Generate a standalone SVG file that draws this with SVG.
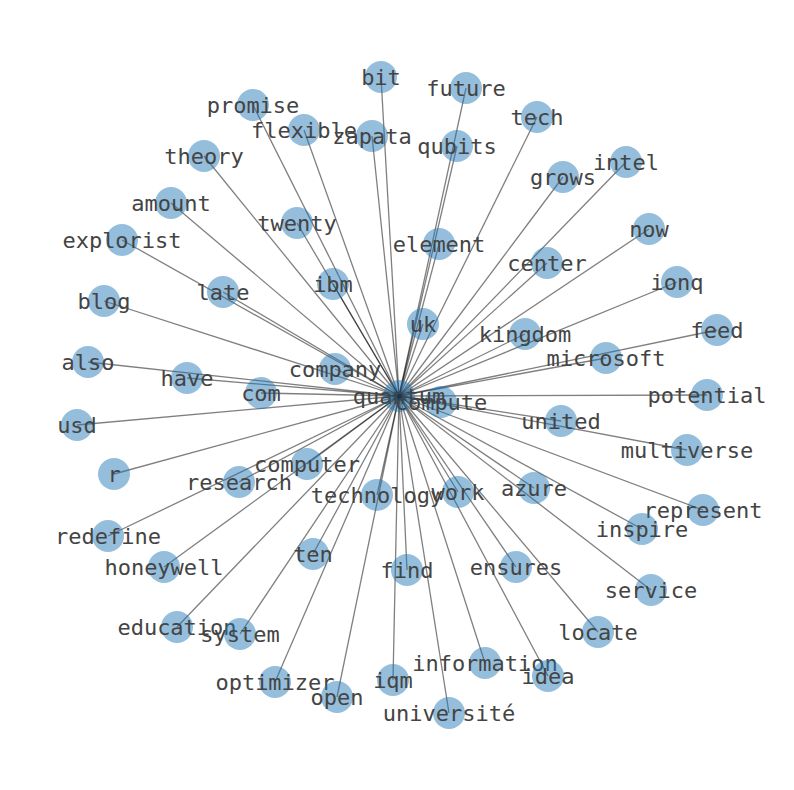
<svg xmlns="http://www.w3.org/2000/svg" width="794" height="790" viewBox="0 0 794 790">
<style>
.e line{stroke:#000;stroke-opacity:0.5;stroke-width:1.3}
.n circle{fill:#1f77b4;fill-opacity:0.48}
.n text{font-family:"DejaVu Sans Mono",monospace;font-size:22px;fill:#444;text-anchor:middle;dominant-baseline:central}
</style>
<rect width="794" height="790" fill="#fff"/>
<g id="edges" class="e">
<line x1="399" y1="396" x2="381" y2="77"/>
<line x1="399" y1="396" x2="253" y2="105"/>
<line x1="399" y1="396" x2="304" y2="130"/>
<line x1="399" y1="396" x2="372" y2="136"/>
<line x1="399" y1="396" x2="204" y2="156"/>
<line x1="399" y1="396" x2="171" y2="203"/>
<line x1="399" y1="396" x2="122" y2="240"/>
<line x1="399" y1="396" x2="297" y2="223"/>
<line x1="399" y1="396" x2="223" y2="292"/>
<line x1="399" y1="396" x2="333" y2="284"/>
<line x1="399" y1="396" x2="104" y2="301"/>
<line x1="399" y1="396" x2="466" y2="88"/>
<line x1="399" y1="396" x2="537" y2="117"/>
<line x1="399" y1="396" x2="457" y2="146"/>
<line x1="399" y1="396" x2="563" y2="177"/>
<line x1="399" y1="396" x2="626" y2="162"/>
<line x1="399" y1="396" x2="649" y2="229"/>
<line x1="399" y1="396" x2="439" y2="244"/>
<line x1="399" y1="396" x2="547" y2="263"/>
<line x1="399" y1="396" x2="677" y2="282"/>
<line x1="399" y1="396" x2="423" y2="324"/>
<line x1="399" y1="396" x2="525" y2="334"/>
<line x1="399" y1="396" x2="717" y2="330"/>
<line x1="399" y1="396" x2="606" y2="358"/>
<line x1="399" y1="396" x2="88" y2="362"/>
<line x1="399" y1="396" x2="187" y2="378"/>
<line x1="399" y1="396" x2="335" y2="369"/>
<line x1="399" y1="396" x2="261" y2="393"/>
<line x1="399" y1="396" x2="77" y2="425"/>
<line x1="399" y1="396" x2="114" y2="474"/>
<line x1="399" y1="396" x2="307" y2="464"/>
<line x1="399" y1="396" x2="239" y2="482"/>
<line x1="399" y1="396" x2="377" y2="495"/>
<line x1="399" y1="396" x2="108" y2="536"/>
<line x1="399" y1="396" x2="164" y2="567"/>
<line x1="399" y1="396" x2="313" y2="554"/>
<line x1="399" y1="396" x2="177" y2="627"/>
<line x1="399" y1="396" x2="240" y2="634"/>
<line x1="399" y1="396" x2="275" y2="682"/>
<line x1="399" y1="396" x2="337" y2="697"/>
<line x1="399" y1="396" x2="393" y2="680"/>
<line x1="399" y1="396" x2="407" y2="570"/>
<line x1="399" y1="396" x2="441" y2="402"/>
<line x1="399" y1="396" x2="707" y2="395"/>
<line x1="399" y1="396" x2="561" y2="421"/>
<line x1="399" y1="396" x2="687" y2="450"/>
<line x1="399" y1="396" x2="458" y2="492"/>
<line x1="399" y1="396" x2="534" y2="488"/>
<line x1="399" y1="396" x2="703" y2="510"/>
<line x1="399" y1="396" x2="642" y2="529"/>
<line x1="399" y1="396" x2="516" y2="567"/>
<line x1="399" y1="396" x2="651" y2="590"/>
<line x1="399" y1="396" x2="598" y2="632"/>
<line x1="399" y1="396" x2="485" y2="663"/>
<line x1="399" y1="396" x2="548" y2="676"/>
<line x1="399" y1="396" x2="449" y2="713"/>
</g>
<g class="n">
<g id="n-bit"><circle cx="381" cy="77" r="16"/><text x="381" y="77">bit</text></g>
<g id="n-promise"><circle cx="253" cy="105" r="16"/><text x="253" y="105">promise</text></g>
<g id="n-flexible"><circle cx="304" cy="130" r="16"/><text x="304" y="130">flexible</text></g>
<g id="n-zapata"><circle cx="372" cy="136" r="16"/><text x="372" y="136">zapata</text></g>
<g id="n-theory"><circle cx="204" cy="156" r="16"/><text x="204" y="156">theory</text></g>
<g id="n-amount"><circle cx="171" cy="203" r="16"/><text x="171" y="203">amount</text></g>
<g id="n-explorist"><circle cx="122" cy="240" r="16"/><text x="122" y="240">explorist</text></g>
<g id="n-twenty"><circle cx="297" cy="223" r="16"/><text x="297" y="223">twenty</text></g>
<g id="n-late"><circle cx="223" cy="292" r="16"/><text x="223" y="292">late</text></g>
<g id="n-ibm"><circle cx="333" cy="284" r="16"/><text x="333" y="284">ibm</text></g>
<g id="n-blog"><circle cx="104" cy="301" r="16"/><text x="104" y="301">blog</text></g>
<g id="n-future"><circle cx="466" cy="88" r="16"/><text x="466" y="88">future</text></g>
<g id="n-tech"><circle cx="537" cy="117" r="16"/><text x="537" y="117">tech</text></g>
<g id="n-qubits"><circle cx="457" cy="146" r="16"/><text x="457" y="146">qubits</text></g>
<g id="n-grows"><circle cx="563" cy="177" r="16"/><text x="563" y="177">grows</text></g>
<g id="n-intel"><circle cx="626" cy="162" r="16"/><text x="626" y="162">intel</text></g>
<g id="n-now"><circle cx="649" cy="229" r="16"/><text x="649" y="229">now</text></g>
<g id="n-element"><circle cx="439" cy="244" r="16"/><text x="439" y="244">element</text></g>
<g id="n-center"><circle cx="547" cy="263" r="16"/><text x="547" y="263">center</text></g>
<g id="n-ionq"><circle cx="677" cy="282" r="16"/><text x="677" y="282">ionq</text></g>
<g id="n-uk"><circle cx="423" cy="324" r="16"/><text x="423" y="324">uk</text></g>
<g id="n-kingdom"><circle cx="525" cy="334" r="16"/><text x="525" y="334">kingdom</text></g>
<g id="n-feed"><circle cx="717" cy="330" r="16"/><text x="717" y="330">feed</text></g>
<g id="n-microsoft"><circle cx="606" cy="358" r="16"/><text x="606" y="358">microsoft</text></g>
<g id="n-also"><circle cx="88" cy="362" r="16"/><text x="88" y="362">also</text></g>
<g id="n-have"><circle cx="187" cy="378" r="16"/><text x="187" y="378">have</text></g>
<g id="n-company"><circle cx="335" cy="369" r="16"/><text x="335" y="369">company</text></g>
<g id="n-com"><circle cx="261" cy="393" r="16"/><text x="261" y="393">com</text></g>
<g id="n-usd"><circle cx="77" cy="425" r="16"/><text x="77" y="425">usd</text></g>
<g id="n-r"><circle cx="114" cy="474" r="16"/><text x="114" y="474">r</text></g>
<g id="n-computer"><circle cx="307" cy="464" r="16"/><text x="307" y="464">computer</text></g>
<g id="n-research"><circle cx="239" cy="482" r="16"/><text x="239" y="482">research</text></g>
<g id="n-technology"><circle cx="377" cy="495" r="16"/><text x="377" y="495">technology</text></g>
<g id="n-redefine"><circle cx="108" cy="536" r="16"/><text x="108" y="536">redefine</text></g>
<g id="n-honeywell"><circle cx="164" cy="567" r="16"/><text x="164" y="567">honeywell</text></g>
<g id="n-ten"><circle cx="313" cy="554" r="16"/><text x="313" y="554">ten</text></g>
<g id="n-education"><circle cx="177" cy="627" r="16"/><text x="177" y="627">education</text></g>
<g id="n-system"><circle cx="240" cy="634" r="16"/><text x="240" y="634">system</text></g>
<g id="n-optimizer"><circle cx="275" cy="682" r="16"/><text x="275" y="682">optimizer</text></g>
<g id="n-open"><circle cx="337" cy="697" r="16"/><text x="337" y="697">open</text></g>
<g id="n-iqm"><circle cx="393" cy="680" r="16"/><text x="393" y="680">iqm</text></g>
<g id="n-find"><circle cx="407" cy="570" r="16"/><text x="407" y="570">find</text></g>
<g id="n-potential"><circle cx="707" cy="395" r="16"/><text x="707" y="395">potential</text></g>
<g id="n-united"><circle cx="561" cy="421" r="16"/><text x="561" y="421">united</text></g>
<g id="n-multiverse"><circle cx="687" cy="450" r="16"/><text x="687" y="450">multiverse</text></g>
<g id="n-work"><circle cx="458" cy="492" r="16"/><text x="458" y="492">work</text></g>
<g id="n-azure"><circle cx="534" cy="488" r="16"/><text x="534" y="488">azure</text></g>
<g id="n-represent"><circle cx="703" cy="510" r="16"/><text x="703" y="510">represent</text></g>
<g id="n-inspire"><circle cx="642" cy="529" r="16"/><text x="642" y="529">inspire</text></g>
<g id="n-ensures"><circle cx="516" cy="567" r="16"/><text x="516" y="567">ensures</text></g>
<g id="n-service"><circle cx="651" cy="590" r="16"/><text x="651" y="590">service</text></g>
<g id="n-locate"><circle cx="598" cy="632" r="16"/><text x="598" y="632">locate</text></g>
<g id="n-information"><circle cx="485" cy="663" r="16"/><text x="485" y="663">information</text></g>
<g id="n-idea"><circle cx="548" cy="676" r="16"/><text x="548" y="676">idea</text></g>
<g id="n-universite"><circle cx="449" cy="713" r="16"/><text x="449" y="713">université</text></g>
<g id="n-compute"><circle cx="441" cy="402" r="16"/></g>
<g id="n-quantum"><circle cx="399" cy="396" r="16" fill="#1f5591" fill-opacity="0.95"/><text x="399" y="396">quantum</text></g>
<g id="n-compute-label"><text x="441" y="402">compute</text></g>
</g>
</svg>
